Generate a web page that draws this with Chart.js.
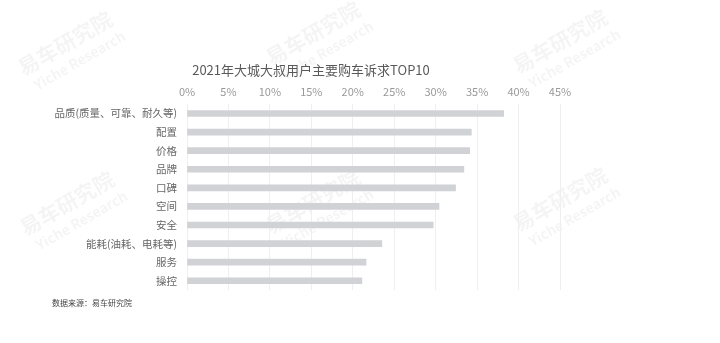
<!DOCTYPE html>
<html>
<head>
<meta charset="utf-8">
<script src="https://cdn.jsdelivr.net/npm/chart.js@4"></script>
<style>
  html, body { margin: 0; padding: 0; background: #ffffff; }
  #wrap { position: relative; width: 720px; height: 343px; }
  #title { position: absolute; left: 0; width: 622px; top: 61px; text-align: center; font: 13px/17px "Noto Sans CJK SC", "Noto Sans", sans-serif; color: #595959; white-space: nowrap; }
  #source { position: absolute; left: 52px; top: 297px; font: 8px "Noto Sans CJK SC", "Noto Sans", sans-serif; color: #444; white-space: nowrap; }
</style>
</head>
<body>
<div id="wrap"><canvas id="c"></canvas><div id="title"></div><div id="source"></div></div>
<script>
const categories = ['品质(质量、可靠、耐久等)', '配置', '价格', '品牌', '口碑', '空间', '安全', '能耗(油耗、电耗等)', '服务', '操控'];
const shareValues = [38.2, 34.3, 34.1, 33.4, 32.4, 30.4, 29.7, 23.5, 21.6, 21.1];
const titleText = '2021年大城大叔用户主要购车诉求TOP10';
const sourceText = '数据来源：易车研究院';
const watermarkLines = ['易车研究院', 'Yiche Research'];
const watermarkSpots = [[70, 52], [318, 42], [565, 50], [72, 212], [318, 210], [565, 208]];

document.getElementById('title').textContent = titleText;
document.getElementById('source').textContent = sourceText;

const FONT = '"Noto Sans CJK SC", "Noto Sans", sans-serif';

const watermarkPlugin = {
  id: 'watermark',
  beforeDraw(chart) {
    const ctx = chart.ctx;
    ctx.save();
    ctx.fillStyle = 'rgba(0,0,0,0.045)';
    ctx.textAlign = 'center';
    ctx.textBaseline = 'middle';
    for (const [x, y] of watermarkSpots) {
      ctx.save();
      ctx.translate(x, y);
      ctx.rotate(-30 * Math.PI / 180);
      ctx.font = 'bold 21px ' + FONT;
      ctx.fillText(watermarkLines[0], 0, -10);
      ctx.font = 'bold 14px ' + FONT;
      ctx.fillText(watermarkLines[1], 4, 12);
      ctx.restore();
    }
    ctx.restore();
  }
};

new Chart(document.getElementById('c'), {
  type: 'bar',
  data: {
    labels: categories,
    datasets: [{
      data: shareValues,
      backgroundColor: 'rgb(208,210,213)',
      barThickness: 6
    }]
  },
  options: {
    indexAxis: 'y',
    responsive: true,
    maintainAspectRatio: false,
    animation: false,
    layout: { padding: { left: 40, right: 160, top: 79, bottom: 53 } },
    plugins: {
      legend: { display: false },
      tooltip: { enabled: false },
      title: { display: false }
    },
    scales: {
      x: {
        position: 'top',
        min: 0,
        max: 45,
        ticks: {
          stepSize: 5,
          color: '#999',
          font: { family: FONT, size: 11 },
          padding: 6,
          callback: v => v + '%'
        },
        grid: { color: '#efefef', drawTicks: false },
        border: { display: false }
      },
      y: {
        afterFit(scale) { scale.width = 147; },
        ticks: {
          color: '#666',
          font: { family: FONT, size: 10.5 },
          padding: 10
        },
        grid: { display: false, drawTicks: false },
        border: { display: false }
      }
    }
  },
  plugins: [watermarkPlugin]
});
</script>
</body>
</html>
